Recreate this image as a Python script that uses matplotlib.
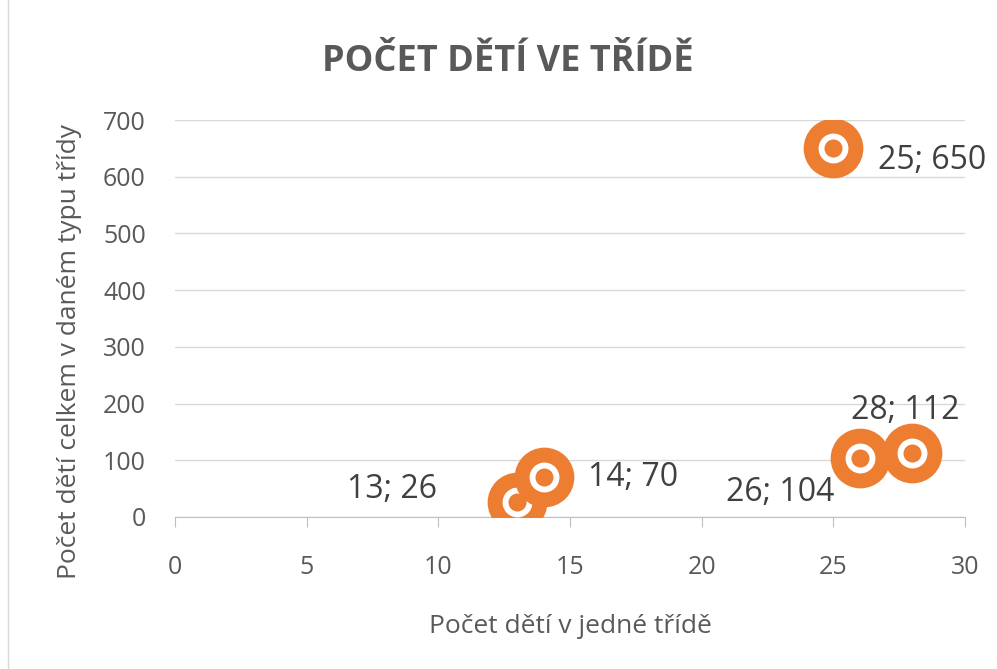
import matplotlib
matplotlib.use("Agg")
import matplotlib.pyplot as plt

# data
deti_ve_tride = [13, 14, 25, 26, 28]
deti_celkem = [26, 70, 650, 104, 112]
popisky = ["13; 26", "14; 70", "25; 650", "26; 104", "28; 112"]
x_ticks = [0, 5, 10, 15, 20, 25, 30]
y_ticks = [0, 100, 200, 300, 400, 500, 600, 700]

plt.rcParams['font.family'] = ['Open Sans', 'DejaVu Sans']

seda = "#595959"
oranz = "#ED7D31"

fig = plt.figure(figsize=(9.97, 6.69), dpi=100)
ax = fig.add_axes([175/997, 1-517/669, 790/997, 397/669])

# label placement (offset in points)
offs = {"13; 26": (-58, 9), "14; 70": (32, 0), "25; 650": (32, -9),
        "26; 104": (-18, -25), "28; 112": (-5, 31)}
ha = {"13; 26": "right", "14; 70": "left", "25; 650": "left",
      "26; 104": "right", "28; 112": "center"}

for i in range(len(deti_ve_tride)):
	x, y = deti_ve_tride[i], deti_celkem[i]
	ax.plot(x, y, 'o', ms=43, color=oranz, mec='none', zorder=3)
	ax.plot(x, y, 'o', ms=21.5, color='white', mec='none', zorder=3)
	ax.plot(x, y, 'o', ms=13, color=oranz, mec='none', zorder=3)
	ax.annotate(popisky[i], (x, y), xytext=offs[popisky[i]], textcoords='offset points',
	            ha=ha[popisky[i]], va='center', fontsize=23, color="#404040", zorder=4)

ax.set_xlim(0, 30)
ax.set_ylim(0, 700)
ax.set_xticks(x_ticks)
ax.set_yticks(y_ticks)
ax.grid(axis='y', color='#D9D9D9', lw=1)
ax.set_axisbelow(True)
for s in ['top', 'right', 'left']:
	ax.spines[s].set_visible(False)
ax.spines['bottom'].set_color('#BFBFBF')
ax.tick_params(axis='x', length=7, color='#BFBFBF', pad=20, labelsize=18, labelcolor=seda)
ax.tick_params(axis='y', length=0, pad=21, labelsize=18, labelcolor=seda)

ax.set_xlabel('Počet dětí v jedné třídě', fontsize=19, color=seda)
ax.set_ylabel('Počet dětí celkem v daném typu třídy', fontsize=19, color=seda)
ax.xaxis.set_label_coords(0.5, -0.277)
ax.yaxis.set_label_coords(-0.133, 0.416)
ax.yaxis.label.set_va('center')
ax.xaxis.label.set_va('center')
fig.text(508/997, 1-62/669, 'POČET DĚTÍ VE TŘÍDĚ', ha='center', va='center',
         fontsize=26, fontweight='bold', color=seda)

# thin frame line at the left edge
fig.add_artist(plt.Line2D([8/997, 8/997], [0, 1], color='#D9D9D9', lw=1))

plt.savefig('out.png', dpi=100)
